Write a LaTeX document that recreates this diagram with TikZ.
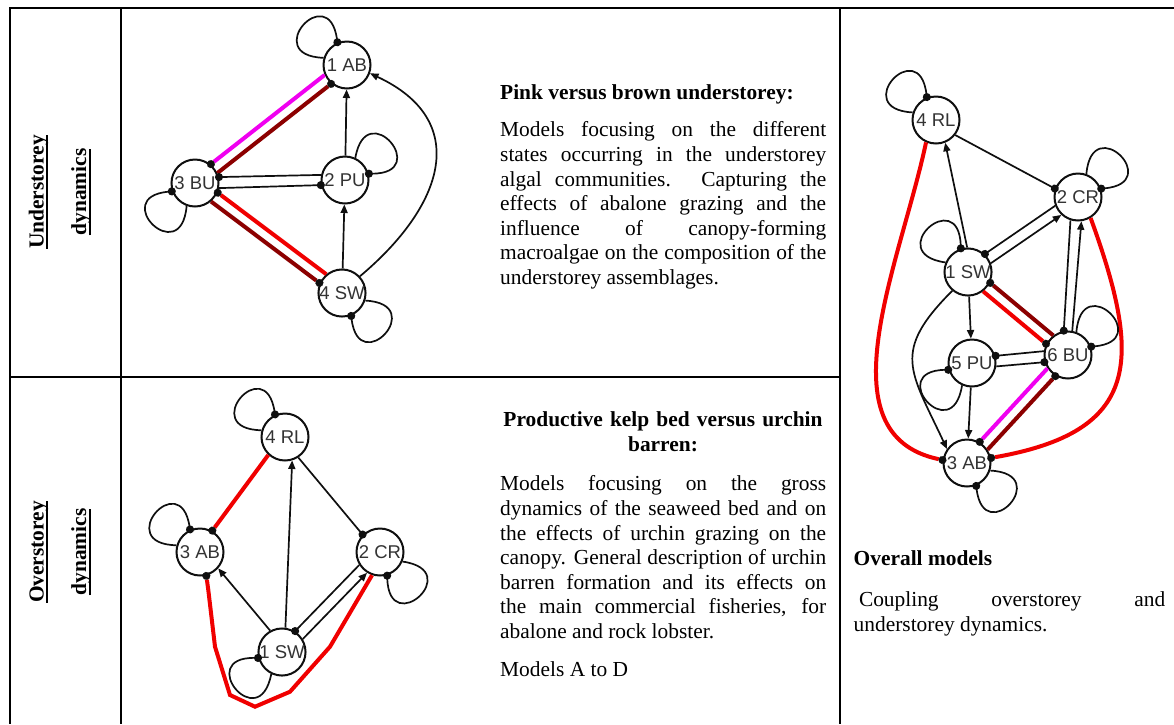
\documentclass[tikz,border=0pt]{standalone}
\usepackage{fontspec}
\setmainfont{Liberation Serif}
\setsansfont{Liberation Sans}
\usetikzlibrary{arrows.meta}
\definecolor{mag}{RGB}{240,0,240}
\definecolor{dred}{RGB}{140,0,0}
\definecolor{rred}{RGB}{240,0,0}
\definecolor{ink}{RGB}{15,15,15}
\newcommand\myul[1]{\setbox0\hbox{#1}\rlap{\rule[-4.6pt]{\wd0}{1.8pt}}\box0}
\tikzset{
  statenode/.style={circle, draw=ink, line width=2pt, minimum size=47pt, inner sep=0pt, fill=white,
    font=\sffamily\fontsize{18.5}{18.5}\selectfont, text=black!80},
  posarr/.style={draw=ink, line width=1.7pt, -{Triangle[length=8.5pt,width=7pt]}},
  negdot/.style={draw=ink, line width=1.7pt, -{Circle[length=8pt]}, shorten >=-3.8pt},
  negmag/.style={draw=mag, line width=4pt, -{Circle[length=8pt,color=ink,line width=0.2pt]}, shorten >=-3.8pt},
  negdred/.style={draw=dred, line width=4pt, -{Circle[length=8pt,color=ink,line width=0.2pt]}, shorten >=-3.8pt},
  negred/.style={draw=rred, line width=4pt, -{Circle[length=8pt,color=ink,line width=0.2pt]}, shorten >=-3.8pt},
  selfloop/.style={min distance=64pt},
  bodytext/.style={inner sep=0pt, font=\fontsize{21.4}{24.6}\selectfont},
  boldtext/.style={inner sep=0pt, font=\bfseries\fontsize{21.4}{24.6}\selectfont},
  gridline/.style={draw=black},
}
\begin{document}
\begin{tikzpicture}[x=1pt,y=1pt]
\useasboundingbox (0,0) rectangle (1174,-724);
\fill[white] (0,0) rectangle (1174,-724);

% table grid
\draw[gridline, line width=2pt] (9,-8) -- (1174,-8);
\draw[gridline, line width=2pt] (9,-377) -- (841,-377);
\draw[gridline, line width=1.6pt] (10,-7) -- (10,-724);
\draw[gridline, line width=1.6pt] (121,-7) -- (121,-724);
\draw[gridline, line width=1.6pt] (840,-7) -- (840,-724);

% row labels
\node[boldtext, rotate=90, anchor=base] (lu1) at (43.5,-192) {\myul{Understorey}};
\node[boldtext, rotate=90, anchor=base] (lu2) at (86,-192) {\myul{dynamics}};
\node[boldtext, rotate=90, anchor=base] (lo1) at (43.5,-552) {\myul{Overstorey}};
\node[boldtext, rotate=90, anchor=base] (lo2) at (86,-552) {\myul{dynamics}};

% texts
\node[boldtext, anchor=base west] (t1) at (500,-99.3) {Pink versus brown understorey:};
\node[bodytext, anchor=north west, text width=326pt, align=justify] (t2) at (500,-119.5)
 {\strut Models focusing on the different\linebreak states occurring in the understorey\linebreak algal communities. Capturing the\linebreak effects of abalone grazing and the\linebreak influence of canopy-forming\linebreak macroalgae on the composition of the\linebreak understorey assemblages.};
\node[boldtext, anchor=north, text width=330pt, align=center] (t3) at (663,-409.5)
 {\strut Productive kelp bed versus urchin\\barren:};
\node[bodytext, anchor=north west, text width=326pt, align=justify] (t4) at (500,-473.5)
 {\strut Models focusing on the gross\linebreak dynamics of the seaweed bed and on\linebreak the effects of urchin grazing on the\linebreak canopy. General description of urchin\linebreak barren formation and its effects on\linebreak the main commercial fisheries, for\linebreak abalone and rock lobster.};
\node[bodytext, anchor=base west] (t5) at (500,-676.7) {Models A to D};
\node[boldtext, anchor=base west] (t6) at (853.5,-565) {Overall models};
\node[bodytext, anchor=north west, text width=311.5pt, align=justify] (t7) at (853.5,-589.5)
 {\strut\hspace*{5.3pt}Coupling overstorey and\linebreak understorey dynamics.};

% ---------- understorey graph ----------
\node[statenode] (tAB) at (347,-65) {1 AB};
\node[statenode] (tPU) at (345,-180) {2 PU};
\node[statenode] (tBU) at (195,-183) {3 BU};
\node[statenode] (tSW) at (342,-293) {4 SW};
\draw[negmag] (tAB.204.8) -- (tBU.50.8);
\draw[negdred] (tBU.24.8) -- (tAB.230.8);
\draw[negdot] (tPU.168) -- (tBU.14);
\draw[negdot] (tBU.-12) -- (tPU.192);
\draw[negred] (tSW.130.2) -- (tBU.-23.8);
\draw[negdred] (tBU.-49.8) -- (tSW.156.2);
\draw[posarr] (tPU) -- (tAB);
\draw[posarr] (tSW) -- (tPU);
\draw[posarr] (tSW.43) to[out=40,in=-25,looseness=1.4] (tAB.-20);
\draw[negdot] (tAB.163) to[out=178,in=98,selfloop] (tAB.113);
\draw[negdot] (tPU.65) to[out=80,in=0,selfloop] (tPU.15);
\draw[negdot] (tBU.250) to[out=265,in=185,selfloop] (tBU.200);
\draw[negdot] (tSW.-18) to[out=-3,in=-83,selfloop] (tSW.-68);

% ---------- overstorey graph ----------
\node[statenode] (bRL) at (285,-437) {4 RL};
\node[statenode] (bAB) at (200,-552) {3 AB};
\node[statenode] (bCR) at (380,-552) {2 CR};
\node[statenode] (bSW) at (282,-652) {1 SW};
\draw[negred] (bRL.227) -- (bAB.60);
\draw[posarr] (bSW.82) -- (bRL.-73);
\draw[negdot] (bRL.-57) -- (bCR.135);
\draw[posarr] (bSW.119) -- (bAB.-42);
\draw[negdot] (bCR.212.6) -- (bSW.58.6);
\draw[posarr] (bSW.32.6) -- (bCR.238.6);
\draw[negred] (bCR.251) -- (330,-646.7) -- (290,-691.7) -- (255,-706.7) -- (230,-695) -- (215,-646.7) -- (208.3,-590) -- (bAB.285);
\draw[negdot] (bRL.164) to[out=179,in=99,selfloop] (bRL.114);
\draw[negdot] (bAB.164) to[out=179,in=99,selfloop] (bAB.114);
\draw[negdot] (bCR.-23) to[out=-8,in=-88,selfloop] (bCR.-73);
\draw[negdot] (bSW.244) to[out=259,in=179,selfloop] (bSW.194);

% ---------- overall graph ----------
\node[statenode] (rRL) at (936,-120) {4 RL};
\node[statenode] (rCR) at (1078,-197) {2 CR};
\node[statenode] (rSW) at (968,-272) {1 SW};
\node[statenode] (rPU) at (972,-363) {5 PU};
\node[statenode] (rBU) at (1068,-355) {6 BU};
\node[statenode] (rAB) at (967,-463) {3 AB};
\draw[posarr] (rSW.92) -- (rRL.-68);
\draw[negdot] (rRL.-38) -- (rCR.160);
\draw[negdot] (rCR.201.3) -- (rSW.47.3);
\draw[posarr] (rSW.21.3) -- (rCR.227.3);
\draw[negdot] (rCR.252) -- (rBU.100);
\draw[posarr] (rBU.80) -- (rCR.278);
\draw[negdred] (rBU.127.3) -- (rSW.-26.7);
\draw[negred] (rSW.-52.7) -- (rBU.153.3);
\draw[posarr] (rSW) -- (rPU);
\draw[posarr] (rSW.230) to[out=225,in=115,looseness=1.4] (rAB.145);
\draw[negdot] (rBU.171.8) -- (rPU.17.8);
\draw[negdot] (rPU.-8.2) -- (rBU.197.8);
\draw[posarr] (rPU) -- (rAB);
\draw[negmag] (rBU.213.9) -- (rAB.59.9);
\draw[negdred] (rAB.33.9) -- (rBU.239.9);
\draw[negred] (rRL.246) to[out=258,in=168] (rAB.173);
\draw[negred] (rCR.-59) to[out=-70,in=10,looseness=1.5] (rAB.12);
\draw[negdot] (rRL.162) to[out=177,in=97,selfloop] (rRL.112);
\draw[negdot] (rCR.70) to[out=85,in=5,selfloop] (rCR.20);
\draw[negdot] (rSW.157) to[out=172,in=92,selfloop] (rSW.107);
\draw[negdot] (rPU.246) to[out=261,in=181,selfloop] (rPU.196);
\draw[negdot] (rBU.70) to[out=85,in=5,selfloop] (rBU.20);
\draw[negdot] (rAB.-18) to[out=-3,in=-83,selfloop] (rAB.-68);
\end{tikzpicture}
\end{document}
